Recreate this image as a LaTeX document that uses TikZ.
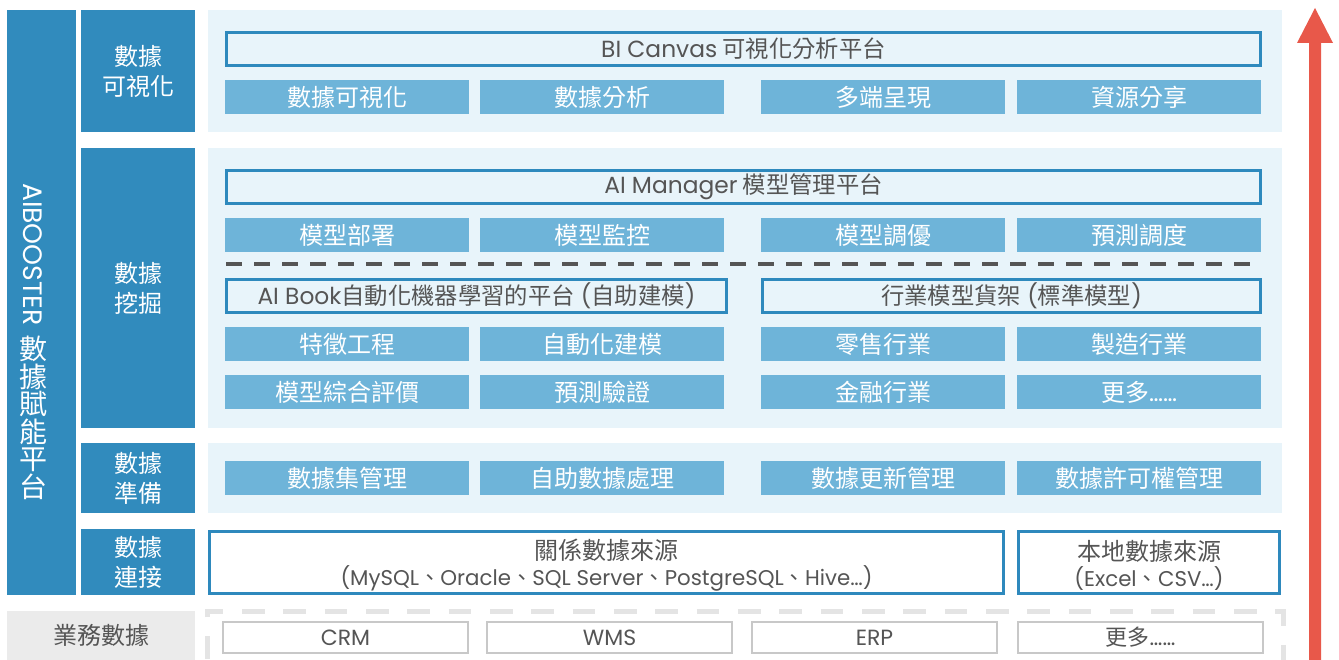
\documentclass[tikz,border=0pt]{standalone}
\usepackage{fontspec}
\setmainfont{Noto Sans CJK TC}
\newfontfamily\lat{Poppins}
\definecolor{dblue}{RGB}{49,139,189}
\definecolor{lblue}{RGB}{110,180,217}
\definecolor{panelc}{RGB}{232,244,250}
\definecolor{bblue}{RGB}{46,137,189}
\definecolor{tgray}{RGB}{85,85,85}
\definecolor{arrowred}{RGB}{232,88,74}
\definecolor{bizgray}{RGB}{235,235,235}
\definecolor{dashgray}{RGB}{228,228,228}
\definecolor{boxgray}{RGB}{200,200,200}
\definecolor{sepgray}{RGB}{85,85,85}
\tikzset{
 panel/.style={fill=panelc, draw=none, anchor=north west, inner sep=0, minimum width=805.5pt},
 cat/.style={fill=dblue, text=white, anchor=north west, minimum width=85.5pt, align=center, inner sep=0, font=\fontsize{18}{22}\selectfont},
 sbox/.style={fill=lblue, text=white, minimum width=183pt, minimum height=25.5pt, inner sep=0, font=\fontsize{18}{20}\selectfont},
 hbox/.style={draw=bblue, line width=2.25pt, fill=panelc, text=tgray, inner sep=0, minimum height=24.75pt, font=\fontsize{17.5}{19}\selectfont},
 srcbox/.style={draw=bblue, line width=2.25pt, fill=white, text=tgray, inner sep=0, minimum height=46.5pt, align=center},
 bizbox/.style={draw=boxgray, line width=1.5pt, fill=white, text=tgray, minimum width=183.75pt, minimum height=23.25pt, inner sep=0, font=\fontsize{16.5}{18}\selectfont},
}
\newcommand\srctitle{\fontsize{18}{20}\selectfont\rule{0pt}{19.5pt}}
\newcommand\srcsub{\fontsize{16}{18}\selectfont}
\begin{document}
\begin{tikzpicture}[x=0.75pt,y=-0.75pt]
\useasboundingbox (0,0) rectangle (1339,660);
% left tall bar
\node[fill=dblue, anchor=north west, inner sep=0, minimum width=51.75pt, minimum height=438.75pt] (bar) at (7,10) {};
\node[rotate=-90, text=white, inner sep=0, font=\lat\fontsize{20}{20}\selectfont] (barlat) at (33,254.5) {AIBOOSTER};
\node[text=white, inner sep=0, align=center, font=\fontsize{21}{20.6}\selectfont] (barcjk) at (33,418) {數\\據\\賦\\能\\平\\台};
% category boxes
\node[cat, minimum height=91.5pt] (c1) at (81,10) {數據\\可視化};
\node[cat, minimum height=210pt] (c2) at (81,148) {數據\\挖掘};
\node[cat, minimum height=52.5pt] (c3) at (81,443) {數據\\準備};
\node[cat, minimum height=49.5pt] (c4) at (81,529) {數據\\連接};
\node[fill=bizgray, text=tgray, inner sep=0, minimum width=141pt, minimum height=36.75pt, font=\fontsize{18}{20}\selectfont] (biz) at (101,635.5) {業務數據};
% panels
\node[panel, minimum height=91.5pt] (p1) at (208,10) {};
\node[panel, minimum height=210pt] (p2) at (208,148) {};
\node[panel, minimum height=52.5pt] (p3) at (208,443) {};
% visualisation
\node[hbox, minimum width=775.5pt] (bi) at (743.5,49) {{\lat BI Canvas} 可視化分析平台};
\node[sbox] (v1) at (347,97) {數據可視化};
\node[sbox] (v2) at (602,97) {數據分析};
\node[sbox] (v3) at (883,97) {多端呈現};
\node[sbox] (v4) at (1139,97) {資源分享};
% mining
\node[hbox, minimum width=775.5pt] (aim) at (743.5,186.5) {{\lat AI Manager} 模型管理平台};
\node[sbox] (m1) at (347,235) {模型部署};
\node[sbox] (m2) at (602,235) {模型監控};
\node[sbox] (m3) at (883,235) {模型調優};
\node[sbox] (m4) at (1139,235) {預測調度};
\coordinate (sepL) at (226,264);
\coordinate (sepR) at (1252,264);
\draw[sepgray, line width=3pt, dash pattern=on 12pt off 9pt] (sepL) -- (sepR);
\node[hbox, minimum width=375pt] (aib) at (476.5,295.5) {{\lat AI Book}自動化機器學習的平台{\lat\ (}自助建模{\lat )}};
\node[hbox, minimum width=373.5pt] (ind) at (1011.5,295.5) {行業模型貨架{\lat\ (}標準模型{\lat )}};
\node[sbox] (b1) at (347,344) {特徵工程};
\node[sbox] (b2) at (602,344) {自動化建模};
\node[sbox] (i1) at (883,344) {零售行業};
\node[sbox] (i2) at (1139,344) {製造行業};
\node[sbox] (b3) at (347,392) {模型綜合評價};
\node[sbox] (b4) at (602,392) {預測驗證};
\node[sbox] (i3) at (883,392) {金融行業};
\node[sbox] (i4) at (1139,392) {更多{\lat ……}};
% preparation
\node[sbox] (r1) at (347,478) {數據集管理};
\node[sbox] (r2) at (602,478) {自助數據處理};
\node[sbox] (r3) at (883,478) {數據更新管理};
\node[sbox] (r4) at (1139,478) {數據許可權管理};
% connection
\node[srcbox, minimum width=595.5pt] (rel) at (606.5,562.5) {\srctitle 關係數據來源\\[2pt]\srcsub{\lat (MySQL}、{\lat Oracle}、{\lat SQL Server}、{\lat PostgreSQL}、{\lat Hive…)}};
\node[srcbox, minimum width=195.75pt] (loc) at (1149,562.5) {\srctitle 本地數據來源\\[2pt]\srcsub{\lat (Excel}、{\lat CSV…)}};
% business data
\draw[dashgray, line width=3.75pt, dash pattern=on 17pt off 14pt] (207,700) -- (207,611) -- (1283,611) -- (1283,700);
\node[bizbox] (d1) at (345.5,637.5) {\lat CRM};
\node[bizbox] (d2) at (609.5,637.5) {\lat WMS};
\node[bizbox] (d3) at (874.5,637.5) {\lat ERP};
\node[bizbox] (d4) at (1140.5,637.5) {更多{\lat ……}};
% arrow
\fill[arrowred] (1309,660) -- (1309,43) -- (1297,43) -- (1315,8) -- (1333,43) -- (1321,43) -- (1321,660) -- cycle;
\end{tikzpicture}
\end{document}
